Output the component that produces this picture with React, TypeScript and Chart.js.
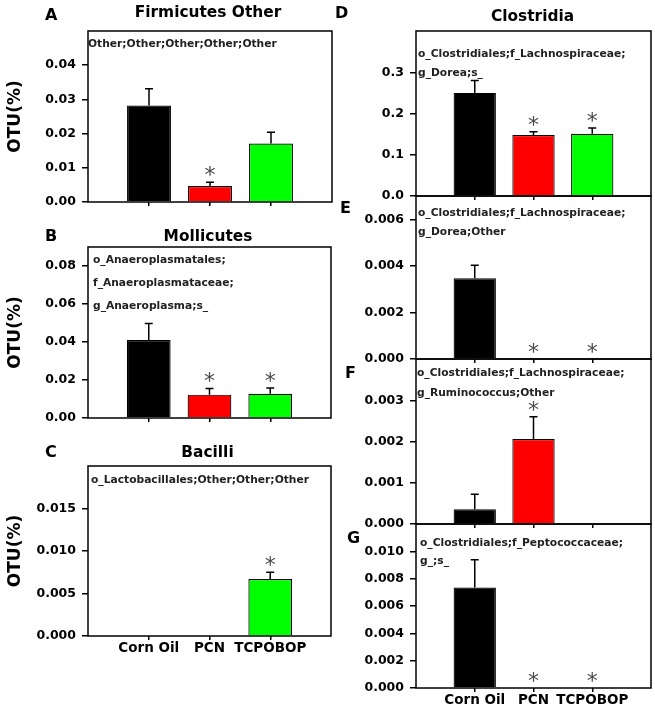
import React, { useEffect, useRef } from 'react';
import { Chart, registerables } from 'chart.js';

Chart.register(...registerables);

const W = 655;
const H = 706;
const FONT = '"DejaVu Sans", "Liberation Sans", Arial, sans-serif';

// ---------- data ----------
const groups = ['Corn Oil', 'PCN', 'TCPOBOP'];
const groupColors = ['#000000', '#ff0000', '#00ff00'];

// A – Firmicutes Other
const firmicutesMean = [0.0282, 0.0047, 0.0171];
const firmicutesErr = [0.0049, 0.0011, 0.0033];
const firmicutesSig = [false, true, false];
const firmicutesTicks = [0, 0.01, 0.02, 0.03, 0.04];
const firmicutesNote = ['Other;Other;Other;Other;Other'];

// B – Mollicutes
const mollicutesMean = [0.041, 0.0123, 0.0128];
const mollicutesErr = [0.0088, 0.0032, 0.003];
const mollicutesSig = [false, true, true];
const mollicutesTicks = [0, 0.02, 0.04, 0.06, 0.08];
const mollicutesNote = ['o_Anaeroplasmatales;', 'f_Anaeroplasmataceae;', 'g_Anaeroplasma;s_'];

// C – Bacilli
const bacilliMean = [0, 0, 0.0067];
const bacilliErr = [0, 0, 0.0008];
const bacilliSig = [false, false, true];
const bacilliTicks = [0, 0.005, 0.01, 0.015];
const bacilliNote = ['o_Lactobacillales;Other;Other;Other'];

// D – Clostridia, g_Dorea;s_
const doreaSMean = [0.25, 0.148, 0.151];
const doreaSErr = [0.03, 0.008, 0.014];
const doreaSSig = [false, true, true];
const doreaSTicks = [0, 0.1, 0.2, 0.3];
const doreaSNote = ['o_Clostridiales;f_Lachnospiraceae;', 'g_Dorea;s_'];

// E – g_Dorea;Other
const doreaOtherMean = [0.00347, 0, 0];
const doreaOtherErr = [0.00056, 0, 0];
const doreaOtherSig = [false, true, true];
const doreaOtherTicks = [0, 0.002, 0.004, 0.006];
const doreaOtherNote = ['o_Clostridiales;f_Lachnospiraceae;', 'g_Dorea;Other'];

// F – g_Ruminococcus;Other
const ruminoMean = [0.00036, 0.00206, 0];
const ruminoErr = [0.00036, 0.00054, 0];
const ruminoSig = [false, true, false];
const ruminoTicks = [0, 0.001, 0.002, 0.003];
const ruminoNote = ['o_Clostridiales;f_Lachnospiraceae;', 'g_Ruminococcus;Other'];

// G – f_Peptococcaceae
const peptoMean = [0.00735, 0, 0];
const peptoErr = [0.00204, 0, 0];
const peptoSig = [false, true, true];
const peptoTicks = [0, 0.002, 0.004, 0.006, 0.008, 0.01];
const peptoNote = ['o_Clostridiales;f_Peptococcaceae;', 'g_;s_'];

// ---------- layout (page pixels) ----------
const panels = [
  {
    id: 'A', mean: firmicutesMean, err: firmicutesErr, sig: firmicutesSig, ticks: firmicutesTicks, note: firmicutesNote,
    yMax: 0.05, dec: 2, title: 'Firmicutes Other',
    plot: { l: 88, t: 31, r: 332, b: 202 }, titlePos: [208, 16.5], letterPos: [45, 20], notePos: [88, [47]],
    yTitle: true, xLabels: false,
  },
  {
    id: 'B', mean: mollicutesMean, err: mollicutesErr, sig: mollicutesSig, ticks: mollicutesTicks, note: mollicutesNote,
    yMax: 0.09, dec: 2, title: 'Mollicutes',
    plot: { l: 88, t: 247, r: 331, b: 418 }, titlePos: [208, 241], letterPos: [45, 241], notePos: [93, [263, 286, 309]],
    yTitle: true, xLabels: false,
  },
  {
    id: 'C', mean: bacilliMean, err: bacilliErr, sig: bacilliSig, ticks: bacilliTicks, note: bacilliNote,
    yMax: 0.02, dec: 3, title: 'Bacilli',
    plot: { l: 88, t: 466, r: 331, b: 636 }, titlePos: [207.5, 457], letterPos: [45, 457], notePos: [91, [483]],
    yTitle: true, xLabels: true,
  },
  {
    id: 'D', mean: doreaSMean, err: doreaSErr, sig: doreaSSig, ticks: doreaSTicks, note: doreaSNote,
    yMax: 0.4, dec: 1, title: 'Clostridia',
    plot: { l: 416, t: 31, r: 651, b: 196 }, titlePos: [532.5, 21], letterPos: [335, 18], notePos: [418, [57, 76]],
    yTitle: false, xLabels: false,
  },
  {
    id: 'E', mean: doreaOtherMean, err: doreaOtherErr, sig: doreaOtherSig, ticks: doreaOtherTicks, note: doreaOtherNote,
    yMax: 0.007, dec: 3, title: '',
    plot: { l: 416, t: 196, r: 651, b: 359 }, titlePos: [0, 0], letterPos: [340, 213], notePos: [418, [216, 235]],
    yTitle: false, xLabels: false,
  },
  {
    id: 'F', mean: ruminoMean, err: ruminoErr, sig: ruminoSig, ticks: ruminoTicks, note: ruminoNote,
    yMax: 0.004, dec: 3, title: '',
    plot: { l: 416, t: 359, r: 651, b: 524 }, titlePos: [0, 0], letterPos: [345, 378], notePos: [417, [376, 396]],
    yTitle: false, xLabels: false,
  },
  {
    id: 'G', mean: peptoMean, err: peptoErr, sig: peptoSig, ticks: peptoTicks, note: peptoNote,
    yMax: 0.012, dec: 3, title: '',
    plot: { l: 416, t: 524, r: 651, b: 688 }, titlePos: [0, 0], letterPos: [347, 543], notePos: [420, [546, 564]],
    yTitle: false, xLabels: true,
  },
];

type PanelDef = (typeof panels)[number];

function makeDecor(p: PanelDef) {
  return {
    id: 'decor' + p.id,
    afterDatasetsDraw(chart: any) {
      const ctx: CanvasRenderingContext2D = chart.ctx;
      const { left, top, right, bottom } = chart.chartArea;
      const yScale = chart.scales.y;
      const meta = chart.getDatasetMeta(0);
      ctx.save();
      // error bars + significance marks
      p.mean.forEach((m, i) => {
        const el = meta.data[i + 1];
        if (!el) return;
        const x = el.x;
        const yBar = yScale.getPixelForValue(m);
        const yTop = yScale.getPixelForValue(m + p.err[i]);
        if (p.err[i] > 0) {
          ctx.strokeStyle = '#000';
          ctx.lineWidth = 1.5;
          ctx.beginPath();
          ctx.moveTo(x, yBar);
          ctx.lineTo(x, yTop);
          ctx.moveTo(x - 4, yTop);
          ctx.lineTo(x + 4, yTop);
          ctx.stroke();
        }
        if (p.sig[i]) {
          const size = 22;
          ctx.fillStyle = '#4a4a4a';
          ctx.font = `${size}px ${FONT}`;
          ctx.textAlign = 'center';
          ctx.textBaseline = 'alphabetic';
          const cy = yTop - 12;
          ctx.fillText('*', x, cy + 0.54 * size);
        }
      });
      // frame
      ctx.strokeStyle = '#000';
      ctx.lineWidth = 1.5;
      ctx.strokeRect(left, top, right - left, bottom - top);
      // taxonomy note
      ctx.fillStyle = '#222';
      ctx.font = `bold 10.7px ${FONT}`;
      ctx.textAlign = 'left';
      ctx.textBaseline = 'alphabetic';
      const [nx, nys] = p.notePos as [number, number[]];
      p.note.forEach((line, k) => ctx.fillText(line, nx, nys[k]));
      // title
      ctx.fillStyle = '#000';
      if (p.title) {
        ctx.font = `bold 15.4px ${FONT}`;
        ctx.textAlign = 'center';
        ctx.fillText(p.title, p.titlePos[0], p.titlePos[1]);
      }
      // panel letter
      ctx.font = `bold 16px ${FONT}`;
      ctx.textAlign = 'left';
      ctx.fillText(p.id, p.letterPos[0], p.letterPos[1]);
      ctx.restore();
    },
  };
}

function Panel({ p }: { p: PanelDef }) {
  const ref = useRef<HTMLCanvasElement>(null);
  useEffect(() => {
    const labels = ['', ...groups, ''];
    const data = [null, ...p.mean, null];
    const colors = ['#000', ...groupColors, '#000'];
    const chart = new Chart(ref.current as HTMLCanvasElement, {
      type: 'bar',
      data: {
        labels,
        datasets: [
          {
            data: data as any,
            backgroundColor: colors,
            borderColor: '#000',
            borderWidth: 1.2,
            barPercentage: 0.72,
            categoryPercentage: 1,
          },
        ],
      },
      plugins: [makeDecor(p)],
      options: {
        responsive: false,
        animation: false,
        devicePixelRatio: 1,
        events: [],
        layout: { padding: { left: 0, top: p.plot.t, right: W - p.plot.r, bottom: 0 } },
        plugins: { legend: { display: false }, tooltip: { enabled: false }, title: { display: false } },
        scales: {
          x: {
            type: 'category',
            offset: false,
            afterFit: (s: any) => {
              s.height = H - p.plot.b;
            },
            grid: {
              offset: false,
              drawOnChartArea: false,
              drawTicks: true,
              tickLength: 4,
              lineWidth: 1.5,
              color: (c: any) => (c.index === 0 || c.index === labels.length - 1 ? 'rgba(0,0,0,0)' : '#000'),
            },
            border: { display: false },
            ticks: {
              display: p.xLabels,
              autoSkip: false,
              maxRotation: 0,
              padding: 0,
              color: '#000',
              font: { family: FONT, size: 13.5, weight: 'bold' },
            },
          },
          y: {
            type: 'linear',
            min: 0,
            max: p.yMax,
            afterFit: (s: any) => {
              s.width = p.plot.l;
            },
            afterBuildTicks: (s: any) => {
              s.ticks = p.ticks.map((v) => ({ value: v }));
            },
            grid: { drawOnChartArea: false, drawTicks: true, tickLength: 6, lineWidth: 1.5, color: '#000' },
            border: { display: false },
            ticks: {
              autoSkip: false,
              padding: 6,
              color: '#000',
              font: { family: FONT, size: 12.5, weight: 'bold' },
              callback: (v: any) => Number(v).toFixed(p.dec),
            },
            title: {
              display: p.yTitle,
              text: 'OTU(%)',
              color: '#000',
              font: { family: FONT, size: 17, weight: 'bold' },
              padding: { top: 5, bottom: 0 },
            },
          },
        },
      } as any,
    });
    return () => chart.destroy();
  }, []);
  return (
    <canvas
      ref={ref}
      width={W}
      height={H}
      style={{ position: 'absolute', left: 0, top: 0, width: W, height: H }}
    />
  );
}

export default function App() {
  return (
    <div style={{ position: 'fixed', left: 0, top: 0, width: W, height: H, background: '#fff', overflow: 'hidden' }}>
      {panels.map((p) => (
        <Panel key={p.id} p={p} />
      ))}
    </div>
  );
}
